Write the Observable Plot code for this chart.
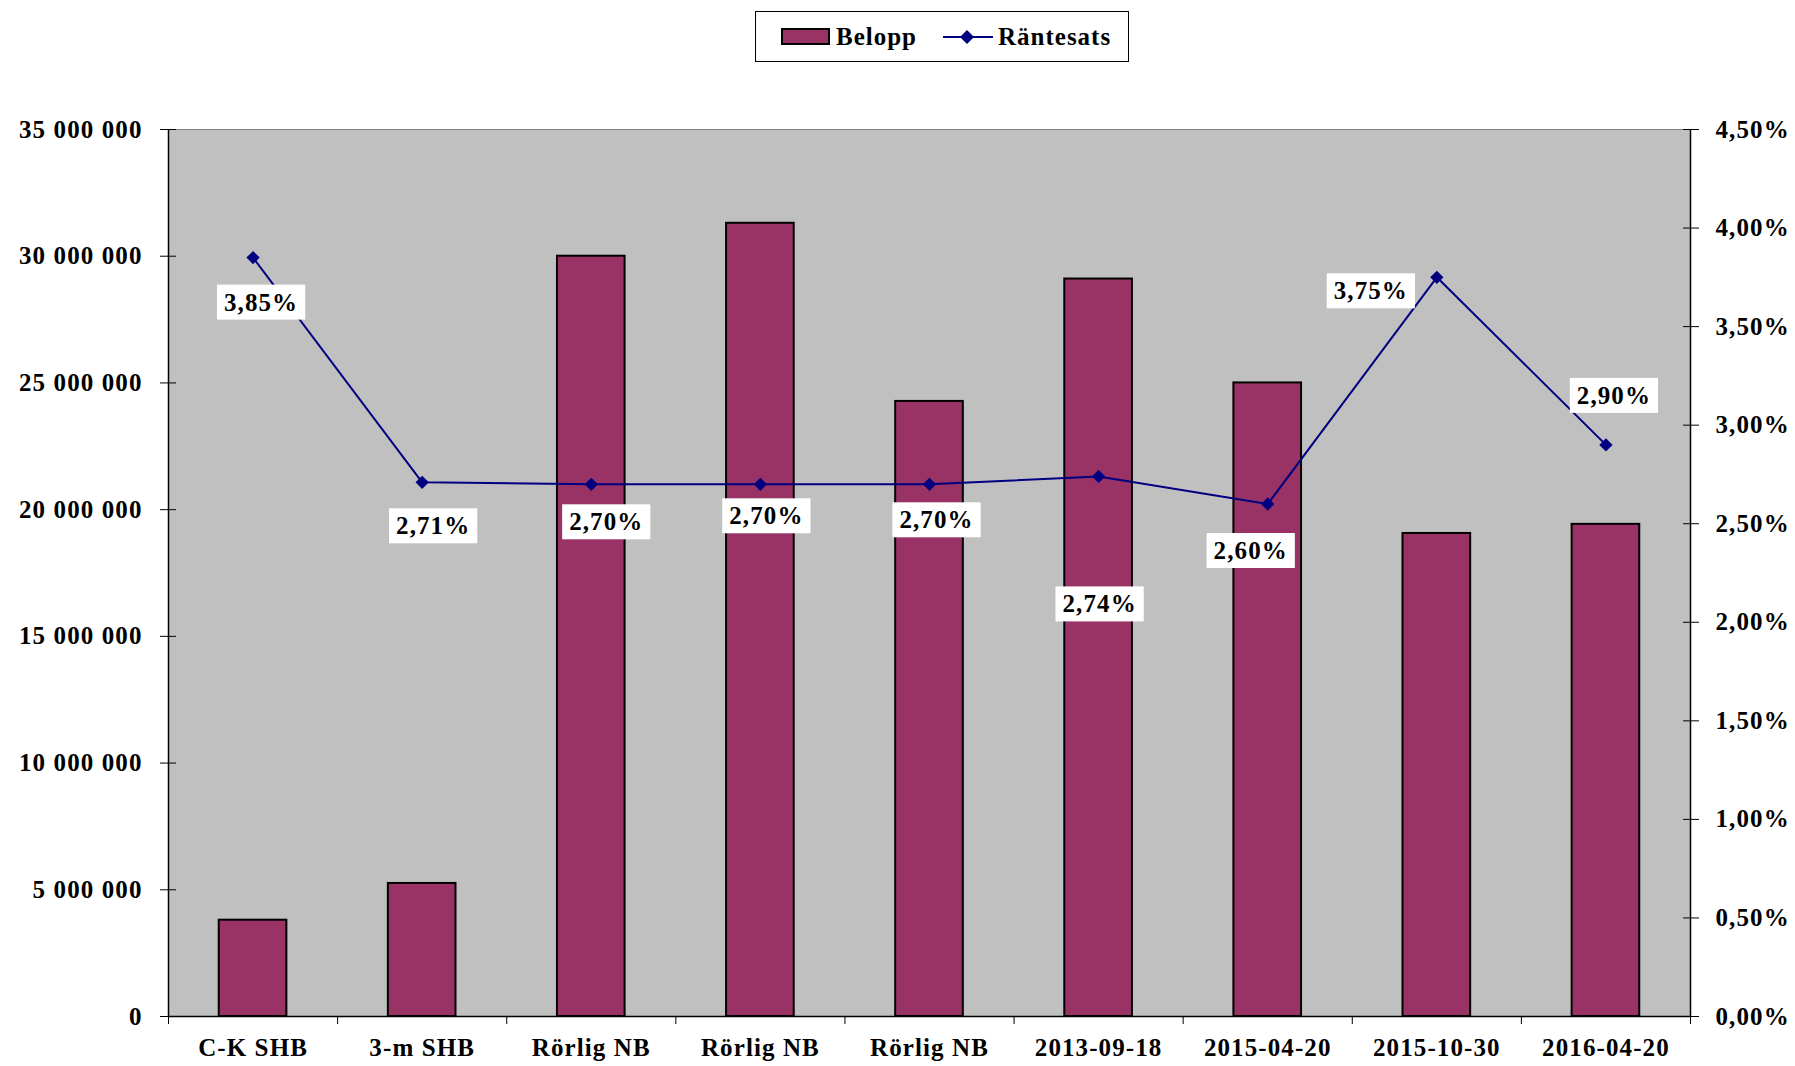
<!DOCTYPE html>
<html>
<head>
<meta charset="utf-8">
<script src="https://cdn.jsdelivr.net/npm/d3@7"></script>
<script src="https://cdn.jsdelivr.net/npm/@observablehq/plot@0.6"></script>
<style>
  body { margin: 0; background: #fff; font-family: "Liberation Serif", serif; }
  #wrap { position: relative; width: 1795px; }
  #legend { position: relative; height: 75px; }
  #legend .box { position: absolute; left: 755px; top: 11px; width: 372px; height: 49px; border: 1px solid #000; background: #fff; box-sizing: content-box; }
  #legend .item { position: absolute; top: 0; height: 49px; display: flex; align-items: center; font-weight: bold; font-size: 25px; letter-spacing: 1px; }
  #legend .sw { width: 45px; height: 13px; background: #993366; border: 2px solid #000; margin-right: 6px; }
</style>
</head>
<body>
<div id="wrap">
  <div id="legend">
    <div class="box">
      <div class="item" style="left:25px"><div class="sw"></div><span>Belopp</span></div>
      <div class="item" style="left:187px">
        <svg width="50" height="20" style="margin-right:5px"><line x1="0" y1="10" x2="50" y2="10" stroke="#000080" stroke-width="2"/><path d="M24,3 L31,10 L24,17 L17,10 Z" fill="#000080"/></svg>
        <span>Räntesats</span></div>
    </div>
  </div>
  <div id="chart"></div>
</div>
<script>
const categories = ["C-K SHB", "3-m SHB", "Rörlig NB", "Rörlig NB", "Rörlig NB", "2013-09-18", "2015-04-20", "2015-10-30", "2016-04-20"];
const belopp = [3800000, 5250000, 30000000, 31300000, 24270000, 29100000, 25000000, 19060000, 19420000];
const rantesats = [3.85, 2.71, 2.70, 2.70, 2.70, 2.74, 2.60, 3.75, 2.90];
const leftTicks = [0, 5000000, 10000000, 15000000, 20000000, 25000000, 30000000, 35000000];
const rightTicks = [0, 0.5, 1.0, 1.5, 2.0, 2.5, 3.0, 3.5, 4.0, 4.5];

// layout (not data): label offsets in px relative to each marker
const labelOffsets = [[8, 45], [11, 44], [15, 38], [6, 32], [7, 36], [1, 128], [-17, 47], [-66, 14], [8, -49]];

const yMax = 35000000, rMax = 4.5, k = yMax / rMax;
const data = categories.map((c, i) => ({i, c, belopp: belopp[i], rate: rantesats[i]}));
const fmtLeft = v => d3.format(",")(v).replace(/,/g, " ");
const fmtPct = r => r.toFixed(2).replace(".", ",") + "%";

const W = 1795, H = 991, mt = 54, mb = 50, ml = 168, mr = 105;
const half = 0.2; // bar half-width in category units (Excel gap width 150%)

const marks = [
  Plot.frame({fill: "#c0c0c0", stroke: "#808080"}),
  Plot.rect(data, {x1: d => d.i - half, x2: d => d.i + half, y1: 0, y2: "belopp", fill: "#993366", stroke: "#000", strokeWidth: 2}),
  Plot.ruleX([-0.5, 8.5], {stroke: "#000", strokeWidth: 1.5}),
  Plot.ruleY([0], {stroke: "#000", strokeWidth: 1.5}),
  Plot.line(data, {x: "i", y: d => d.rate * k, stroke: "#000080", strokeWidth: 2}),
  Plot.dot(data, {x: "i", y: d => d.rate * k, symbol: "diamond2", r: 6, fill: "#000080", stroke: "none"}),
  Plot.axisY({anchor: "left", ticks: leftTicks, tickSize: 8, tickPadding: 18, tickFormat: fmtLeft, label: null}),
  Plot.axisY({anchor: "left", ticks: leftTicks, tickSize: -8, tickFormat: () => "", label: null}),
  Plot.axisY({anchor: "right", ticks: rightTicks.map(r => r * k), tickSize: 8, tickPadding: 17, tickFormat: v => fmtPct(v / k), label: null}),
  Plot.axisY({anchor: "right", ticks: rightTicks.map(r => r * k), tickSize: -8, tickFormat: () => "", label: null}),
  Plot.axisX({ticks: d3.range(-0.5, 9, 1), tickSize: 8, tickFormat: () => "", label: null}),
  Plot.axisX({ticks: d3.range(0, 9), tickSize: 0, tickPadding: 22, tickFormat: i => categories[i], label: null}),
  ...data.map((d, j) => Plot.text([d], {
    x: "i", y: dd => dd.rate * k, text: dd => fmtPct(dd.rate),
    dx: labelOffsets[j][0], dy: labelOffsets[j][1], fill: "#000", lineAnchor: "middle",
    ariaLabel: "ratelabel"
  }))
];

const chart = Plot.plot({
  width: W, height: H,
  marginTop: mt, marginBottom: mb, marginLeft: ml, marginRight: mr,
  style: {fontFamily: "'Liberation Serif', serif", fontWeight: "bold", fontSize: "25px", letterSpacing: "1.1px", color: "#000", background: "#fff", overflow: "visible"},
  x: {type: "linear", domain: [-0.5, 8.5]},
  y: {domain: [0, yMax]},
  marks
});
document.getElementById("chart").appendChild(chart);

// white boxes behind the rate labels
const labelTexts = [];
chart.querySelectorAll("g").forEach(g => {
  const al = g.getAttribute("aria-label");
  if (al === "ratelabel" || al === "text") g.querySelectorAll("text").forEach(t => labelTexts.push(t));
});
labelTexts.forEach(t => {
  const b = t.getBBox();
  const r = document.createElementNS("http://www.w3.org/2000/svg", "rect");
  r.setAttribute("x", b.x - 7); r.setAttribute("y", b.y - 4);
  r.setAttribute("width", b.width + 14); r.setAttribute("height", b.height + 8);
  r.setAttribute("fill", "#fff");
  const tr = t.getAttribute("transform");
  if (tr) r.setAttribute("transform", tr);
  t.parentNode.insertBefore(r, t);
});
</script>
</body>
</html>
